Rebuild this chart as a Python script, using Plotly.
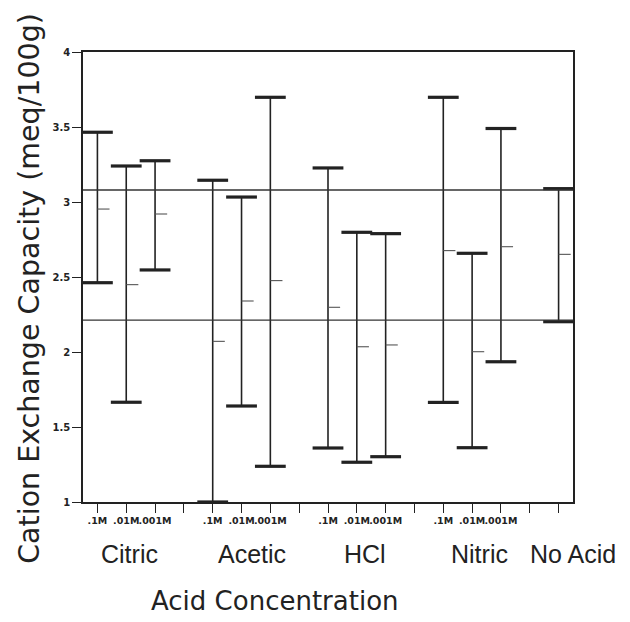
import plotly.graph_objects as go

# ---- data ----
positions = [1, 2, 3, 5, 6, 7, 9, 10, 11, 13, 14, 15, 17]
upper = [3.465, 3.24, 3.275, 3.145, 3.033, 3.698, 3.227, 2.798, 2.789, 3.698, 2.658, 3.49, 3.089]
mean = [2.953, 2.449, 2.92, 2.071, 2.34, 2.476, 2.298, 2.035, 2.047, 2.676, 2.002, 2.702, 2.651]
lower = [2.462, 1.665, 2.547, 1.0, 1.64, 1.238, 1.36, 1.265, 1.302, 1.664, 1.362, 1.935, 2.202]

tick_positions = list(range(1, 18))
tick_labels = [".1M", ".01M", ".001M", "",
               ".1M", ".01M", ".001M", "",
               ".1M", ".01M", ".001M", "",
               ".1M", ".01M", ".001M", "", ""]
y_ticks = [1, 1.5, 2, 2.5, 3, 3.5, 4]
y_tick_labels = ["1", "1.5", "2", "2.5", "3", "3.5", "4"]

groups = ["Citric", "Acetic", "HCl", "Nitric", "No Acid"]
group_x = [2.1, 6.35, 10.3, 14.25, 17.5]

ref_lines = [3.08, 2.213]
mean_tick_len = 0.42

INK = "#222222"

fig = go.Figure()

# stems
sx, sy = [], []
for p, lo, hi in zip(positions, lower, upper):
    sx += [p, p, None]
    sy += [lo, hi, None]
fig.add_trace(go.Scatter(x=sx, y=sy, mode="lines",
                         line=dict(color=INK, width=1.6),
                         hoverinfo="skip", showlegend=False, cliponaxis=False))

# caps
fig.add_trace(go.Scatter(x=positions + positions, y=lower + upper, mode="markers",
                         marker=dict(symbol="line-ew", size=22,
                                     line=dict(color=INK, width=3.2)),
                         hoverinfo="skip", showlegend=False, cliponaxis=False))

# mean ticks (short line to the right of each stem)
mx, my = [], []
for p, m in zip(positions, mean):
    mx += [p, p + mean_tick_len, None]
    my += [m, m, None]
fig.add_trace(go.Scatter(x=mx, y=my, mode="lines",
                         line=dict(color="#555555", width=1.1),
                         hoverinfo="skip", showlegend=False))

for v in ref_lines:
    fig.add_hline(y=v, line=dict(color="#333333", width=1.3))

for g, gx in zip(groups, group_x):
    fig.add_annotation(x=gx, xref="x", y=-0.116, yref="paper", text=g,
                       showarrow=False, xanchor="center", yanchor="middle",
                       font=dict(family="Liberation Sans", size=25, color=INK))

fig.add_annotation(x=0.392, xref="paper", y=-0.22, yref="paper",
                   text="Acid Concentration", showarrow=False,
                   xanchor="center", yanchor="middle",
                   font=dict(family="DejaVu Sans", size=26, color=INK))

fig.add_annotation(x=-0.108, xref="paper", y=0.474, yref="paper",
                   text="Cation Exchange Capacity (meq/100g)", showarrow=False,
                   textangle=-90, xanchor="center", yanchor="middle",
                   font=dict(family="DejaVu Sans", size=28.5, color=INK))

fig.update_xaxes(range=[0.5, 17.5], tickmode="array", tickvals=tick_positions,
                 ticktext=tick_labels, ticks="outside", ticklen=9, tickwidth=1.3,
                 tickangle=0,
                 tickcolor=INK, showline=True, mirror=True, linecolor=INK,
                 linewidth=1.6, showgrid=False, zeroline=False,
                 tickfont=dict(family="DejaVu Sans", size=9.5, color=INK, weight="bold"))
fig.update_yaxes(range=[1, 4], tickmode="array", tickvals=y_ticks,
                 ticktext=y_tick_labels, ticks="outside", ticklen=9, tickwidth=1.3,
                 tickcolor=INK, showline=True, mirror=True, linecolor=INK,
                 linewidth=1.6, showgrid=False, zeroline=False,
                 tickfont=dict(family="DejaVu Sans", size=10, color=INK, weight="bold"))

fig.update_layout(width=630, height=622,
                  margin=dict(l=75, r=65, t=44, b=128),
                  paper_bgcolor="white", plot_bgcolor="white",
                  showlegend=False)

fig.write_html("out.html")
